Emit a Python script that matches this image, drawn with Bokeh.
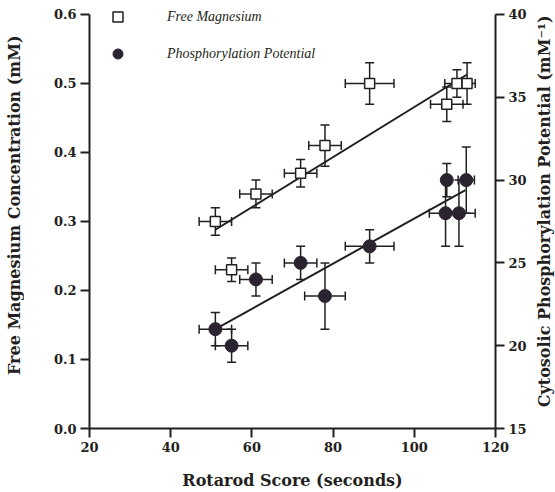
import math
from bokeh.plotting import figure
from bokeh.layouts import row
from bokeh.models import (Range1d, LinearAxis, Whisker, ColumnDataSource, FixedTicker,
                          Legend, LegendItem, TeeHead, NumeralTickFormatter, Label)
from bokeh.embed import file_html
from bokeh.resources import INLINE

# ---------------- data ----------------
x_ticks = [20, 40, 60, 80, 100, 120]
mg_ticks = [0.0, 0.1, 0.2, 0.3, 0.4, 0.5, 0.6]
pp_ticks = [15, 20, 25, 30, 35, 40]

# Free magnesium (left axis, mM)
mg_x = [51, 61, 72, 78, 89, 55, 108, 110.5, 113]
mg_y = [0.30, 0.34, 0.37, 0.41, 0.50, 0.23, 0.47, 0.50, 0.50]
mg_xerr = [4, 4, 4, 4, 6, 4, 4, 3, 2]
mg_yerr = [0.02, 0.02, 0.02, 0.03, 0.03, 0.017, 0.025, 0.02, 0.03]

# Phosphorylation potential (right axis, mM^-1)
pp_x = [51, 55, 61, 72, 78, 89, 108, 112.8, 107.7, 111]
pp_y = [21, 20, 24, 25, 23, 26, 30, 30, 28, 28]
pp_xerr = [4, 4, 4, 4, 5, 6, 0, 2, 4, 4]
pp_yerr = [1, 1, 1, 1, 2, 1, 1, 2, 2, 2]

# regression lines
mg_fit_x = [51, 113]
mg_fit_y = [0.288, 0.513]
pp_fit_x = [51, 112.6]
pp_fit_y = [21.0, 29.4]

x_title = "Rotarod Score (seconds)"
left_title = "Free Magnesium Concentration (mM)"
right_title = "Cytosolic Phosphorylation Potential (mM\u207b\u00b9)"

INK = "#231f20"
DOT = "#2b2430"
SERIF = "DejaVu Serif"

# ---------------- layout (px) ----------------
H = 492
LW, RW = 24, 25                 # side strips holding the rotated axis titles
PW = 555 - LW - RW              # main plot width
B_LEFT, B_RIGHT, B_BOTTOM = 65, 35, 63
FRAME_H = H - B_BOTTOM
AXIS_PX = 415                   # drawn length of the value axes
head_room = FRAME_H / AXIS_PX   # frame reaches a little above the axis tops (legend room)

mg_src = ColumnDataSource(dict(
    x=mg_x, y=mg_y,
    x_lo=[a - b for a, b in zip(mg_x, mg_xerr)], x_hi=[a + b for a, b in zip(mg_x, mg_xerr)],
    y_lo=[a - b for a, b in zip(mg_y, mg_yerr)], y_hi=[a + b for a, b in zip(mg_y, mg_yerr)],
))
pp_src = ColumnDataSource(dict(
    x=pp_x, y=pp_y,
    x_lo=[a - b for a, b in zip(pp_x, pp_xerr)], x_hi=[a + b for a, b in zip(pp_x, pp_xerr)],
    y_lo=[a - b for a, b in zip(pp_y, pp_yerr)], y_hi=[a + b for a, b in zip(pp_y, pp_yerr)],
))

mg_lo, mg_hi = mg_ticks[0], mg_ticks[-1]
pp_lo, pp_hi = pp_ticks[0], pp_ticks[-1]

p = figure(width=PW, height=H, output_backend="svg", toolbar_location=None,
           x_range=Range1d(x_ticks[0], x_ticks[-1]),
           y_range=Range1d(mg_lo, mg_lo + (mg_hi - mg_lo) * head_room),
           min_border_left=B_LEFT, min_border_right=B_RIGHT, min_border_top=0,
           min_border_bottom=B_BOTTOM)
p.extra_y_ranges = {"pp": Range1d(pp_lo, pp_lo + (pp_hi - pp_lo) * head_room)}
p.grid.visible = False
p.outline_line_color = None
p.background_fill_color = "white"
p.border_fill_color = "white"

right_axis = LinearAxis(y_range_name="pp")
p.add_layout(right_axis, "right")

def style(ax, ticks):
    ax.ticker = FixedTicker(ticks=ticks)
    ax.bounds = (ticks[0], ticks[-1])
    ax.axis_line_width = 2
    ax.axis_line_color = INK
    ax.major_tick_line_width = 2
    ax.major_tick_line_color = INK
    ax.major_tick_out = 9
    ax.major_tick_in = 0
    ax.minor_tick_out = 0
    ax.minor_tick_in = 0
    ax.major_label_standoff = 4
    ax.major_label_text_font = SERIF
    ax.major_label_text_font_style = "bold"
    ax.major_label_text_font_size = "13px"
    ax.major_label_text_color = INK
    ax.axis_label_text_font = SERIF
    ax.axis_label_text_font_style = "bold"
    ax.axis_label_text_font_size = "16px"
    ax.axis_label_text_color = INK

style(p.xaxis[0], x_ticks)
style(p.yaxis[0], mg_ticks)
style(right_axis, pp_ticks)
p.yaxis[0].formatter = NumeralTickFormatter(format="0.0")
p.xaxis[0].axis_label = x_title
p.xaxis[0].axis_label_standoff = 16

# regression lines
p.line(mg_fit_x, mg_fit_y, line_color=INK, line_width=2)
p.line(pp_fit_x, pp_fit_y, line_color=INK, line_width=2, y_range_name="pp")

def head():
    return TeeHead(size=9, line_width=1.5, line_color=INK)

for src, rng in ((mg_src, "default"), (pp_src, "pp")):
    p.add_layout(Whisker(source=src, base="x", lower="y_lo", upper="y_hi", dimension="height",
                         line_width=1.5, line_color=INK, upper_head=head(), lower_head=head(),
                         y_range_name=rng, level="underlay"))
    p.add_layout(Whisker(source=src, base="y", lower="x_lo", upper="x_hi", dimension="width",
                         line_width=1.5, line_color=INK, upper_head=head(), lower_head=head(),
                         y_range_name=rng, level="underlay"))

mg_r = p.scatter("x", "y", source=mg_src, marker="square", size=10,
                 fill_color="white", line_color=INK, line_width=1.5)
pp_r = p.scatter("x", "y", source=pp_src, marker="circle", size=13,
                 fill_color=DOT, line_color=DOT, y_range_name="pp")

legend = Legend(items=[LegendItem(label="Free Magnesium", renderers=[mg_r]),
                       LegendItem(label="Phosphorylation Potential", renderers=[pp_r])],
                location=(16, 362), padding=0, margin=0, spacing=12,
                glyph_width=25, glyph_height=25, label_height=25, label_standoff=37,
                background_fill_alpha=0, border_line_color=None,
                label_text_font="Liberation Serif", label_text_font_style="italic",
                label_text_font_size="14px", label_text_color=INK)
p.add_layout(legend, "center")

# ---------------- side strips with the rotated axis titles ----------------
# Each strip gets the same frame as the main plot (0 .. FRAME_H px from the top);
# y is counted in px from the top of the page. The text ends (its top) at y_top.
def title_strip(width, text, cx, y_top, size):
    s = figure(width=width, height=H, output_backend="svg", toolbar_location=None,
               x_range=Range1d(0, width), y_range=Range1d(FRAME_H, 0),
               x_axis_type=None, y_axis_type=None,
               min_border_left=0, min_border_right=0, min_border_top=0,
               min_border_bottom=B_BOTTOM)
    s.grid.visible = False
    s.outline_line_color = None
    s.background_fill_color = "white"
    s.border_fill_color = "white"
    s.add_layout(Label(x=cx, y=y_top, text=text, angle=math.pi / 2,
                       text_align="right", text_baseline="middle",
                       text_font=SERIF, text_font_style="bold", text_font_size=size,
                       text_color=INK))
    return s

pl = title_strip(LW, left_title, 14, 35, "16px")
pr = title_strip(RW, right_title, 14, 15, "16px")

layout = row(pl, p, pr, spacing=0)
open("out.html", "w").write(file_html(layout, INLINE))
